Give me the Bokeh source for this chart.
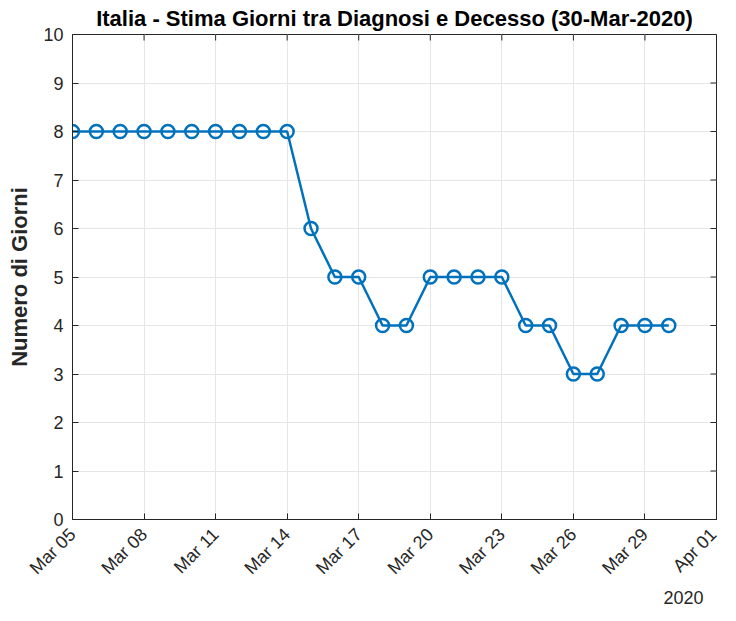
import pandas as pd
from bokeh.plotting import figure
from bokeh.models import (FixedTicker, DatetimeTickFormatter, Range1d, ColumnDataSource, Title)
from bokeh.embed import file_html
from bokeh.resources import INLINE
from math import pi

dates = ["2020-03-05", "2020-03-06", "2020-03-07", "2020-03-08", "2020-03-09",
         "2020-03-10", "2020-03-11", "2020-03-12", "2020-03-13", "2020-03-14",
         "2020-03-15", "2020-03-16", "2020-03-17", "2020-03-18", "2020-03-19",
         "2020-03-20", "2020-03-21", "2020-03-22", "2020-03-23", "2020-03-24",
         "2020-03-25", "2020-03-26", "2020-03-27", "2020-03-28", "2020-03-29",
         "2020-03-30"]
giorni = [8, 8, 8, 8, 8, 8, 8, 8, 8, 8,
          6, 5, 5, 4, 4, 5, 5, 5, 5, 4,
          4, 3, 3, 4, 4, 4]
tick_dates = ["2020-03-05", "2020-03-08", "2020-03-11", "2020-03-14", "2020-03-17",
              "2020-03-20", "2020-03-23", "2020-03-26", "2020-03-29", "2020-04-01"]
y_ticks = [0, 1, 2, 3, 4, 5, 6, 7, 8, 9, 10]
title_text = "Italia - Stima Giorni tra Diagnosi e Decesso (30-Mar-2020)"
ylabel = "Numero di Giorni"
year_text = "2020"

FONT = "Liberation Sans"
TXT = "#262626"

x = pd.to_datetime(dates)
src = ColumnDataSource(dict(x=x, y=giorni))
ticks_ms = [pd.Timestamp(d).value / 1e6 for d in tick_dates]

p = figure(width=720, height=605, x_axis_type="datetime",
           output_backend="svg", toolbar_location=None,
           x_range=Range1d(ticks_ms[0], ticks_ms[-1]),
           y_range=Range1d(y_ticks[0], y_ticks[-1]),
           min_border_left=72, min_border_right=4, min_border_top=33, min_border_bottom=86)
p.title.text = title_text
p.title.align = "center"
p.title.text_font = FONT
p.title.text_font_size = "22px"
p.title.text_font_style = "bold"
p.title.text_color = "black"
p.title.offset = 0
p.title.standoff = 7

p.background_fill_color = "white"
p.border_fill_color = "white"
p.outline_line_color = TXT
p.outline_line_width = 1

xa = p.xaxis[0]
xa.ticker = FixedTicker(ticks=ticks_ms)
xa.formatter = DatetimeTickFormatter(days="%b %d", months="%b %d")
xa.major_label_orientation = pi / 4
xa.major_label_standoff = 12

ya = p.yaxis[0]
ya.ticker = FixedTicker(ticks=y_ticks)
ya.axis_label = ylabel
ya.axis_label_text_font = FONT
ya.axis_label_text_font_size = "22px"
ya.axis_label_text_font_style = "bold"
ya.axis_label_text_color = TXT
ya.axis_label_standoff = 8
ya.major_label_standoff = 9

for ax in (xa, ya):
    ax.major_label_text_font = FONT
    ax.major_label_text_font_size = "18px"
    ax.major_label_text_color = TXT
    ax.axis_line_color = TXT
    ax.major_tick_line_color = TXT
    ax.major_tick_in = 6
    ax.major_tick_out = 0
    ax.minor_tick_line_color = None

p.xgrid.ticker = FixedTicker(ticks=ticks_ms)
p.ygrid.ticker = FixedTicker(ticks=y_ticks)
p.grid.grid_line_color = "#e6e6e6"
p.grid.grid_line_width = 1

# inner ticks on top and right edges of the box
p.ray(x=ticks_ms, y=[y_ticks[-1]] * len(ticks_ms), length=6, length_units="screen",
      angle=-pi / 2, line_color=TXT, line_width=1)
p.ray(x=[ticks_ms[-1]] * len(y_ticks), y=y_ticks, length=6, length_units="screen",
      angle=pi, line_color=TXT, line_width=1)

p.line("x", "y", source=src, line_color="#0072BD", line_width=2.5)
p.scatter("x", "y", source=src, marker="circle", size=13, fill_alpha=0,
          line_color="#0072BD", line_width=2.5)

year = Title(text=year_text, align="right", offset=13, standoff=0,
             text_font=FONT, text_font_size="18px", text_font_style="normal",
             text_color=TXT)
p.add_layout(year, "below")

open("out.html", "w").write(file_html(p, INLINE))
